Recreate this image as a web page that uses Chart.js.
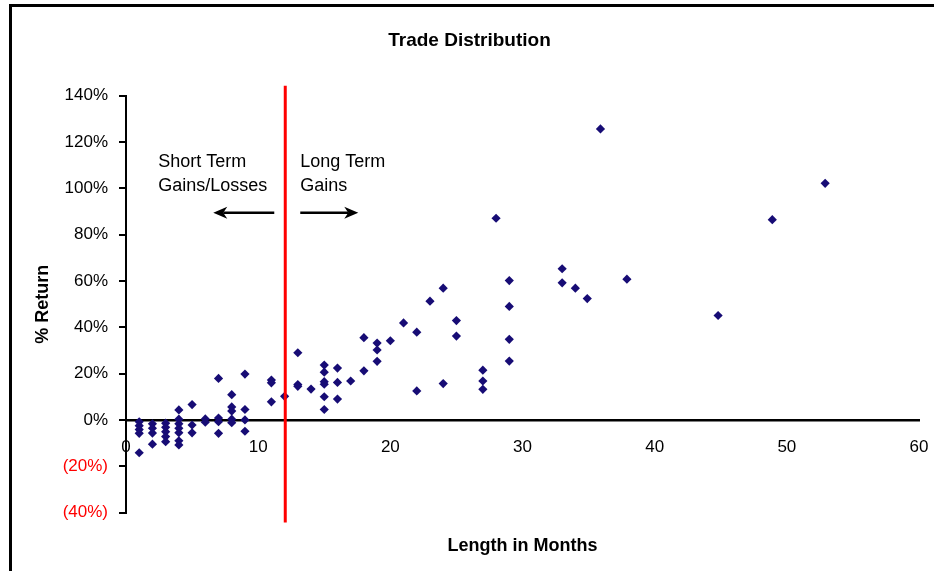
<!DOCTYPE html>
<html>
<head>
<meta charset="utf-8">
<script src="https://cdn.jsdelivr.net/npm/chart.js@4"></script>
<style>
  html, body { margin: 0; padding: 0; background: #fff; }
  #wrap { position: relative; width: 934px; height: 571px; overflow: hidden; }
  #frame { position: absolute; left: 9px; top: 4px; right: -5px; bottom: -5px;
           border-top: 3px solid #000; border-left: 3px solid #000; pointer-events: none; }
</style>
</head>
<body>
<div id="wrap">
  <canvas id="chart" width="934" height="571"></canvas>
  <div id="frame"></div>
</div>
<script>
// trade length (months) and return (%)
const months = [
  1, 1, 1, 1, 1,
  2, 2, 2, 2,
  3, 3, 3, 3, 3,
  4, 4, 4, 4, 4, 4, 4,
  5, 5, 5,
  6, 6,
  7, 7, 7, 7,
  8, 8, 8, 8, 8,
  9, 9, 9, 9,
  11, 11, 11,
  12,
  13, 13, 13,
  14,
  15, 15, 15, 15, 15, 15,
  16, 16, 16,
  17,
  18, 18,
  19, 19, 19,
  20, 21, 22, 22, 23, 24, 24, 25, 25,
  27, 27, 27, 28,
  29, 29, 29, 29,
  33, 33, 34, 34.9, 35.9, 37.9, 44.8, 48.9, 52.9
];
const returns = [
  -0.8, -2.5, -4.2, -5.8, -14.2,
  -1.7, -3.6, -5.7, -10.5,
  -1.4, -3.2, -5.1, -7.2, -9.4,
  4.3, 0.3, -1.7, -3.6, -5.5, -9.0, -10.8,
  6.6, -2.2, -5.6,
  0.4, -1.0,
  17.9, 0.8, -0.8, -5.8,
  10.9, 5.6, 3.8, 0.3, -1.2,
  19.8, 4.5, 0, -4.9,
  17.2, 16.0, 7.8,
  10.2,
  29.0, 15.3, 14.5,
  13.3,
  23.7, 20.6, 16.5, 15.4, 10.0, 4.5,
  22.4, 16.2, 9.0,
  16.8,
  35.5, 21.2,
  33.2, 30.2, 25.3,
  34.2, 41.9, 37.9, 12.5, 51.3, 56.9, 15.7, 42.9, 36.2,
  21.5, 16.8, 13.2, 87.1,
  60.2, 49.0, 34.8, 25.4,
  65.3, 59.2, 56.9, 52.4, 125.7, 60.8, 45.1, 86.5, 102.2
];
const xTicks = [0, 10, 20, 30, 40, 50, 60];
const yTicks = [-40, -20, 0, 20, 40, 60, 80, 100, 120, 140];
const dividerMonth = 12.05;
const shortLabel = ['Short Term', 'Gains/Losses'];
const longLabel = ['Long Term', 'Gains'];

const FONT = "'Liberation Sans', Arial, sans-serif";
const points = months.map((m, i) => ({ x: m, y: returns[i] }));

function arrow(ctx, x1, x2, y) {
  const dir = Math.sign(x2 - x1);
  ctx.beginPath();
  ctx.moveTo(x1, y);
  ctx.lineTo(x2 - dir * 10, y);
  ctx.stroke();
  ctx.beginPath();
  ctx.moveTo(x2, y);
  ctx.lineTo(x2 - dir * 14, y - 6);
  ctx.lineTo(x2 - dir * 10, y);
  ctx.lineTo(x2 - dir * 14, y + 6);
  ctx.closePath();
  ctx.fill();
}

const dividerPlugin = {
  id: 'divider',
  afterDatasetsDraw(chart) {
    const { ctx, chartArea } = chart;
    const xs = chart.scales.x;
    const px = xs.getPixelForValue(dividerMonth);
    ctx.save();
    ctx.strokeStyle = '#ff0000';
    ctx.lineWidth = 3;
    ctx.beginPath();
    ctx.moveTo(px, chartArea.top - 10);
    ctx.lineTo(px, chartArea.bottom + 10);
    ctx.stroke();

    ctx.fillStyle = '#000';
    ctx.strokeStyle = '#000';
    ctx.font = '18px ' + FONT;
    ctx.textBaseline = 'middle';
    ctx.textAlign = 'left';
    const t1 = chartArea.top + 66, t2 = chartArea.top + 90;
    ctx.fillText(shortLabel[0], px - 127, t1);
    ctx.fillText(shortLabel[1], px - 127, t2);
    ctx.fillText(longLabel[0], px + 15, t1);
    ctx.fillText(longLabel[1], px + 15, t2);
    ctx.lineWidth = 2.5;
    const ay = chartArea.top + 117;
    arrow(ctx, px - 11, px - 72, ay);
    arrow(ctx, px + 15, px + 73, ay);
    ctx.restore();
  }
};

new Chart(document.getElementById('chart').getContext('2d'), {
  type: 'scatter',
  data: {
    datasets: [{
      label: 'Trades',
      data: points,
      pointStyle: 'rectRot',
      pointRadius: 4.6,
      pointBorderWidth: 0,
      backgroundColor: '#170c75',
      borderColor: '#170c75'
    }]
  },
  options: {
    responsive: false,
    animation: false,
    devicePixelRatio: 1,
    layout: { padding: { left: 20, right: 15, top: 0, bottom: 0 } },
    plugins: {
      legend: { display: false },
      tooltip: { enabled: false },
      title: {
        display: true,
        text: 'Trade Distribution',
        color: '#000',
        font: { family: FONT, size: 19, weight: 'bold' },
        padding: { top: 29.5, bottom: 43.5 }
      },
      subtitle: {
        display: true,
        position: 'bottom',
        fullSize: false,
        text: 'Length in Months',
        color: '#000',
        font: { family: FONT, size: 18, weight: 'bold' },
        padding: { top: 22.7, bottom: 14.2 }
      }
    },
    scales: {
      x: {
        type: 'linear',
        position: { y: 0 },
        min: 0,
        max: 60,
        afterBuildTicks: s => { s.ticks = xTicks.map(v => ({ value: v })); },
        afterFit: s => { s.paddingLeft = 0; s.paddingRight = 0; },
        ticks: { color: '#000', font: { family: FONT, size: 17 }, padding: 17, maxRotation: 0 },
        grid: { display: false, drawTicks: false },
        border: { display: true, color: '#000', width: 2.5 }
      },
      y: {
        type: 'linear',
        position: 'left',
        min: -40,
        max: 140,
        afterBuildTicks: s => { s.ticks = yTicks.map(v => ({ value: v })); },
        afterFit: s => { s.width = 106; },
        ticks: {
          font: { family: FONT, size: 17 },
          padding: 11,
          color: c => (c.tick && c.tick.value < 0 ? '#ff0000' : '#000'),
          callback: v => (v < 0 ? '(' + Math.abs(v) + '%)' : v + '%')
        },
        grid: { drawOnChartArea: false, drawTicks: true, tickLength: 7, color: '#000', lineWidth: 2 },
        border: { display: true, color: '#000', width: 2 },
        title: {
          display: true,
          text: '% Return',
          color: '#000',
          font: { family: FONT, size: 18, weight: 'bold' },
          padding: { top: 12, bottom: 0 }
        }
      }
    }
  },
  plugins: [dividerPlugin]
});
</script>
</body>
</html>
